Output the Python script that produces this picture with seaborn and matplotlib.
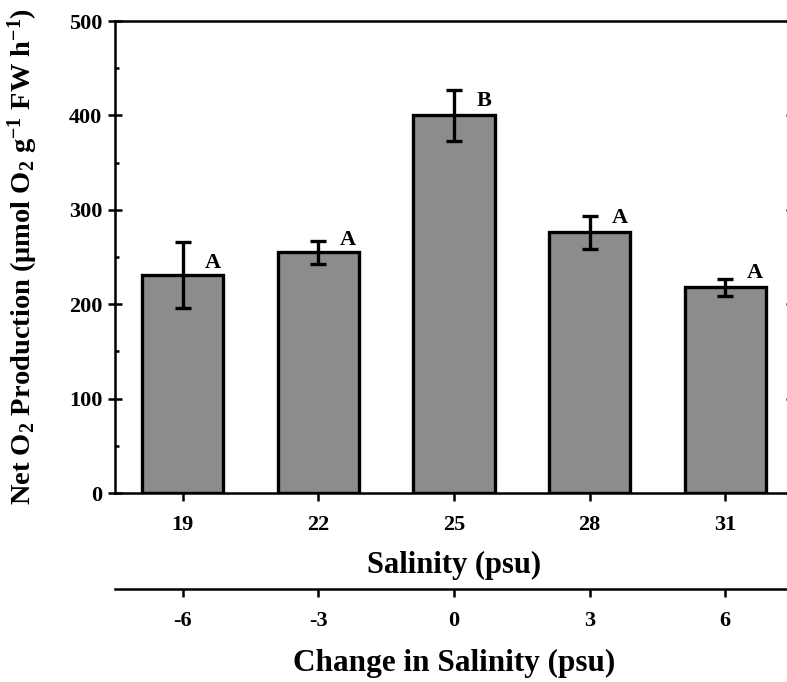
import matplotlib
matplotlib.use('Agg')
import numpy as np
import pandas as pd
import seaborn as sns
import matplotlib.pyplot as plt
from matplotlib.ticker import MultipleLocator

salinity = ['19', '22', '25', '28', '31']
change = ['-6', '-3', '0', '3', '6']
net_o2 = [231, 255, 400, 276, 218]
sem = [35, 12, 27, 17, 9]
letters = ['A', 'A', 'B', 'A', 'A']
letter_y = [244, 268, 415, 291, 233]

sns.set_theme(style='ticks')
plt.rcParams['font.family'] = ['Liberation Serif', 'DejaVu Serif']
plt.rcParams['font.weight'] = 'bold'
plt.rcParams['mathtext.default'] = 'regular'
plt.rcParams['axes.labelweight'] = 'bold'
for k in ['text.color', 'axes.labelcolor', 'xtick.color', 'ytick.color', 'axes.edgecolor']:
    plt.rcParams[k] = 'black'

fig = plt.figure(figsize=(7.87, 6.82), dpi=100)
ax = fig.add_axes([0.1461, 0.2771, 0.8615, 0.6921])

df = pd.DataFrame({'Salinity': salinity, 'NetO2': net_o2})
sns.barplot(data=df, x='Salinity', y='NetO2', order=salinity, color='#8c8c8c',
            width=0.6, edgecolor='black', linewidth=2.4, saturation=1,
            errorbar=None, ax=ax)
xpos = np.arange(len(salinity))
ax.errorbar(xpos, net_o2, yerr=sem, fmt='none', ecolor='black', elinewidth=2.4,
            capsize=5.5, capthick=2.4, zorder=5)
for i, (lab, ly) in enumerate(zip(letters, letter_y)):
    ax.text(i + 0.22, ly, lab, fontsize=16, fontweight='bold', ha='center', va='center')

ax.set_xlim(-0.5, 4.5)
ax.set_ylim(0, 500)
ax.yaxis.set_major_locator(MultipleLocator(100))
ax.yaxis.set_minor_locator(MultipleLocator(50))
for s in ax.spines.values():
    s.set_linewidth(1.8)
    s.set_visible(True)
ax.tick_params(axis='y', which='major', direction='inout', length=10, width=1.8,
               right=True, labelsize=16, pad=4)
ax.tick_params(axis='y', which='minor', direction='in', length=3, width=1.8, right=True)
ax.tick_params(axis='x', direction='out', length=6, width=1.8, labelsize=16, pad=10)

ax.set_ylabel('Net O$_2$ Production (μmol O$_2$ g$^{-1}$ FW h$^{-1}$)', fontsize=20.5,
              fontweight='bold')
ax.yaxis.set_label_coords(-0.1357, 0.5)
ax.yaxis.label.set_va('center')

ax.set_xlabel('Salinity (psu)', fontsize=22, fontweight='bold')
ax.xaxis.set_label_coords(0.5, -0.1525)
ax.xaxis.label.set_va('center')

sec = ax.secondary_xaxis(-0.203)
sec.set_xticks(xpos, labels=change)
sec.tick_params(axis='x', direction='out', length=6, width=1.8, labelsize=16, pad=10)
sec.spines['bottom'].set_linewidth(1.8)
sec.set_xlabel('Change in Salinity (psu)', fontsize=22.5, fontweight='bold', labelpad=13)

fig.savefig('out.png', dpi=100)
